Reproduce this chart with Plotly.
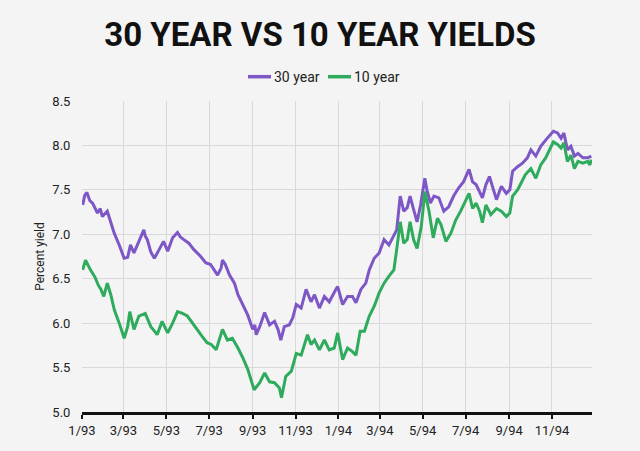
import plotly.graph_objects as go

# 30-year yield (percent)
dates_30 = ["1993-01-02","1993-01-05","1993-01-08","1993-01-12","1993-01-16","1993-01-23","1993-01-27","1993-01-30",
            "1993-02-06","1993-02-11","1993-02-16","1993-02-23","1993-03-02","1993-03-07","1993-03-11","1993-03-16",
            "1993-03-23","1993-03-30","1993-04-01","1993-04-04","1993-04-09","1993-04-14","1993-04-21","1993-04-27",
            "1993-05-03","1993-05-10","1993-05-17","1993-05-21","1993-05-26","1993-06-02","1993-06-09","1993-06-19",
            "1993-06-26","1993-07-03","1993-07-13","1993-07-18","1993-07-20","1993-07-24","1993-07-30","1993-08-06",
            "1993-08-11","1993-08-18","1993-08-25","1993-09-01","1993-09-04","1993-09-06","1993-09-11","1993-09-18",
            "1993-09-25","1993-10-02","1993-10-07","1993-10-11","1993-10-16","1993-10-23","1993-10-28","1993-11-02",
            "1993-11-09","1993-11-16","1993-11-23","1993-11-28","1993-12-05","1993-12-12","1993-12-19","1993-12-29",
            "1993-12-31","1994-01-07","1994-01-14","1994-01-21","1994-01-26","1994-02-02","1994-02-09","1994-02-14",
            "1994-02-21","1994-02-28","1994-03-07","1994-03-14","1994-03-21","1994-03-25","1994-03-30","1994-04-04",
            "1994-04-09","1994-04-13","1994-04-18","1994-04-23","1994-04-28","1994-05-04","1994-05-07","1994-05-12",
            "1994-05-17","1994-05-24","1994-05-31","1994-06-07","1994-06-14","1994-06-21","1994-06-28","1994-07-06",
            "1994-07-11","1994-07-16","1994-07-25","1994-07-30","1994-08-04","1994-08-14","1994-08-21","1994-08-28",
            "1994-09-02","1994-09-06","1994-09-13","1994-09-20","1994-09-27","1994-10-02","1994-10-09","1994-10-16",
            "1994-10-23","1994-11-03","1994-11-09","1994-11-14","1994-11-18","1994-11-23","1994-11-28","1994-12-03",
            "1994-12-08","1994-12-15","1994-12-22","1994-12-27"]
yield_30 = [7.33,7.44,7.47,7.38,7.35,7.24,7.29,7.20,
            7.26,7.14,7.01,6.88,6.73,6.74,6.88,6.79,
            6.92,7.05,6.98,6.94,6.80,6.73,6.83,6.92,
            6.81,6.96,7.02,6.97,6.94,6.90,6.83,6.75,
            6.68,6.66,6.54,6.62,6.71,6.66,6.54,6.45,
            6.32,6.21,6.09,5.93,5.98,5.87,5.96,6.12,
            5.98,6.02,5.93,5.81,5.96,5.98,6.06,6.21,
            6.17,6.38,6.24,6.32,6.17,6.30,6.24,6.39,
            6.41,6.21,6.30,6.30,6.23,6.38,6.45,6.60,
            6.73,6.79,6.94,6.88,6.99,7.05,7.43,7.26,
            7.30,7.43,7.28,7.14,7.33,7.63,7.50,7.35,
            7.43,7.41,7.26,7.31,7.43,7.52,7.59,7.73,
            7.59,7.56,7.41,7.56,7.65,7.39,7.54,7.46,
            7.50,7.71,7.76,7.80,7.86,7.95,7.88,7.99,
            8.06,8.16,8.14,8.08,8.14,7.95,7.99,7.88,
            7.91,7.86,7.86,7.88]

# 10-year yield (percent)
dates_10 = ["1993-01-02","1993-01-06","1993-01-13","1993-01-20","1993-01-24","1993-01-28","1993-02-01","1993-02-06",
            "1993-02-11","1993-02-16","1993-02-23","1993-03-02","1993-03-07","1993-03-10","1993-03-16","1993-03-23",
            "1993-04-01","1993-04-09","1993-04-18","1993-04-25","1993-05-03","1993-05-10","1993-05-17","1993-05-24",
            "1993-05-31","1993-06-07","1993-06-14","1993-06-21","1993-06-28","1993-07-04","1993-07-11","1993-07-20",
            "1993-07-27","1993-08-03","1993-08-11","1993-08-18","1993-08-25","1993-08-30","1993-09-03","1993-09-11",
            "1993-09-18","1993-09-25","1993-10-02","1993-10-09","1993-10-12","1993-10-18","1993-10-26","1993-11-02",
            "1993-11-09","1993-11-18","1993-11-23","1993-11-28","1993-12-05","1993-12-12","1993-12-19","1993-12-26",
            "1993-12-31","1994-01-07","1994-01-14","1994-01-21","1994-01-26","1994-02-01","1994-02-07","1994-02-14",
            "1994-02-21","1994-02-28","1994-03-07","1994-03-14","1994-03-21","1994-03-25","1994-03-30","1994-04-04",
            "1994-04-09","1994-04-13","1994-04-18","1994-04-23","1994-04-29","1994-05-04","1994-05-10","1994-05-16",
            "1994-05-22","1994-05-27","1994-06-03","1994-06-10","1994-06-17","1994-06-24","1994-06-28","1994-07-06",
            "1994-07-11","1994-07-16","1994-07-21","1994-07-25","1994-07-30","1994-08-06","1994-08-14","1994-08-21",
            "1994-08-28","1994-09-02","1994-09-06","1994-09-13","1994-09-17","1994-09-24","1994-10-02","1994-10-09",
            "1994-10-16","1994-10-23","1994-11-03","1994-11-09","1994-11-14","1994-11-18","1994-11-23","1994-11-28",
            "1994-12-03","1994-12-08","1994-12-15","1994-12-22","1994-12-25","1994-12-27"]
yield_10 = [6.60,6.71,6.60,6.51,6.43,6.38,6.30,6.45,
            6.32,6.15,6.00,5.83,5.96,6.13,5.93,6.08,
            6.11,5.96,5.87,6.02,5.89,6.00,6.13,6.11,
            6.08,6.00,5.93,5.85,5.78,5.76,5.70,5.93,
            5.81,5.83,5.72,5.61,5.48,5.36,5.25,5.33,
            5.44,5.34,5.33,5.27,5.16,5.40,5.46,5.66,
            5.64,5.87,5.76,5.81,5.70,5.81,5.70,5.72,
            5.89,5.59,5.72,5.68,5.64,5.91,5.91,6.08,
            6.19,6.34,6.45,6.53,6.60,6.83,7.14,6.90,
            6.94,7.14,6.94,6.84,7.09,7.48,7.26,6.96,
            7.18,7.11,6.92,7.01,7.16,7.26,7.33,7.46,
            7.29,7.35,7.26,7.13,7.33,7.22,7.29,7.26,
            7.20,7.24,7.43,7.50,7.56,7.67,7.74,7.63,
            7.78,7.86,8.04,8.01,7.97,8.03,7.82,7.89,
            7.74,7.82,7.80,7.82,7.78,7.84]

series_names = ["30 year", "10 year"]
tick_dates = ["1993-01-01","1993-03-01","1993-05-01","1993-07-01","1993-09-01","1993-11-01",
              "1994-01-01","1994-03-01","1994-05-01","1994-07-01","1994-09-01","1994-11-01"]
tick_labels = ["1/93","3/93","5/93","7/93","9/93","11/93","1/94","3/94","5/94","7/94","9/94","11/94"]
y_ticks = [5.0,5.5,6.0,6.5,7.0,7.5,8.0,8.5]

PURPLE = "#7e57c6"
GREEN = "#2eab5d"
BG = "#f4f4f4"
GRID = "#d9d9d9"
FONT = "Roboto"

# plot area in pixels (for legend placement)
L, R, T, B = 82, 592, 101.3, 412.3
def px(x):
    return (x - L) / (R - L)
def py(y):
    return (B - y) / (B - T)

fig = go.Figure()
fig.add_trace(go.Scatter(x=dates_30, y=yield_30, mode="lines", name=series_names[0],
                         line=dict(color=PURPLE, width=3), showlegend=False))
fig.add_trace(go.Scatter(x=dates_10, y=yield_10, mode="lines", name=series_names[1],
                         line=dict(color=GREEN, width=3), showlegend=False))

# custom legend (short line swatches + labels)
legend_items = [(series_names[0], PURPLE, 248, 271), (series_names[1], GREEN, 328, 351)]
shapes, annotations = [], []
for name, col, x0, x1 in legend_items:
    shapes.append(dict(type="line", xref="paper", yref="paper", x0=px(x0), x1=px(x1),
                       y0=py(77), y1=py(77), line=dict(color=col, width=3.5)))
    annotations.append(dict(text=name, xref="paper", yref="paper", x=px(x1 + 1), y=py(77),
                            xanchor="left", yanchor="middle", showarrow=False,
                            font=dict(family=FONT, size=14, color="#222222")))

xrange = ["1993-01-01", "1994-12-28"]

fig.update_layout(
    width=640, height=451,
    paper_bgcolor=BG, plot_bgcolor=BG,
    margin=dict(l=82, r=48, t=101, b=39),
    font=dict(family=FONT, size=13, color="#222222"),
    showlegend=False,
    shapes=shapes, annotations=annotations,
    title=dict(text="<b>30 YEAR VS 10 YEAR YIELDS</b>", x=0.5, xanchor="center",
               y=1 - 34 / 451, yanchor="middle",
               font=dict(family=FONT, size=33, color="#111111")),
    xaxis=dict(type="date", range=xrange, tickvals=tick_dates, ticktext=tick_labels,
               showgrid=True, gridcolor=GRID, gridwidth=1,
               showline=True, linecolor="#111111", linewidth=3,
               ticks="outside", ticklen=4, tickwidth=2, tickcolor="#111111",
               tickfont=dict(size=13, color="#222222"), zeroline=False),
    xaxis2=dict(type="date", overlaying="x", matches="x", range=xrange,
                tickvals=tick_dates, showticklabels=False, showgrid=False,
                ticks="inside", ticklen=4, tickwidth=2, tickcolor="#111111",
                side="bottom", anchor="y", showline=False, zeroline=False),
    yaxis=dict(range=[5.0, 8.5], tickvals=y_ticks, tickformat=".1f",
               showgrid=True, gridcolor=GRID, gridwidth=1, zeroline=False,
               showline=False, ticks="outside", ticklen=8, tickcolor="rgba(0,0,0,0)",
               tickfont=dict(size=13, color="#222222"),
               title=dict(text="Percent yield", standoff=5, font=dict(size=12, color="#222222"))),
)

fig.write_html("out.html")
